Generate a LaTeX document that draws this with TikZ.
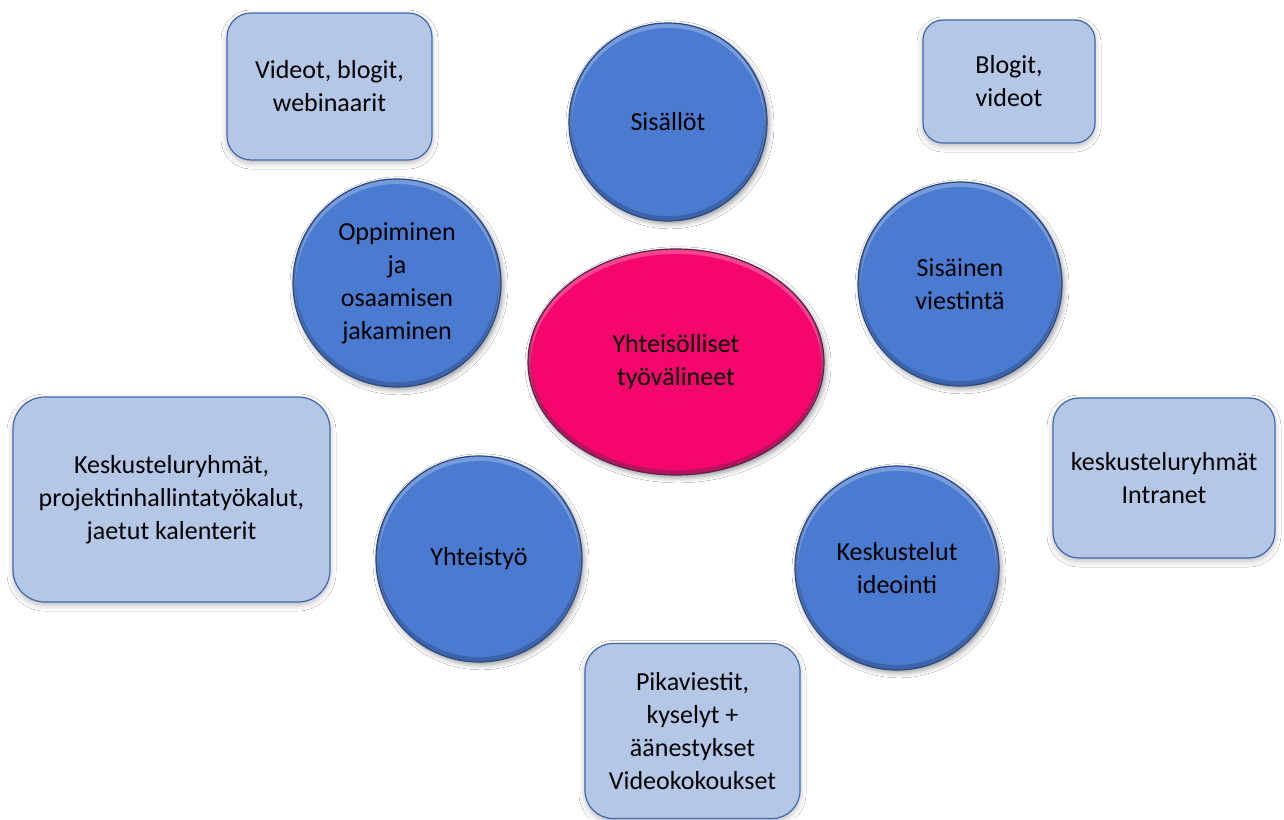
\documentclass[tikz,border=0pt]{standalone}
\usepackage{fontspec}
\setmainfont{Carlito}
\usetikzlibrary{shapes.geometric,shadows.blur}

\definecolor{bubblefill}{RGB}{74,123,208}
\definecolor{bubbleedge}{RGB}{44,72,128}
\definecolor{hubfill}{RGB}{245,6,108}
\definecolor{hubedge}{RGB}{88,36,72}
\definecolor{notefill}{RGB}{180,199,231}
\definecolor{noteedge}{RGB}{66,104,168}

\tikzset{
  labeltext/.style={font=\fontsize{13}{16.5}\selectfont, align=center, text=black},
  softshadow/.style={blur shadow={shadow xshift=1pt, shadow yshift=-1.4pt,
      shadow blur radius=2.5pt, shadow opacity=40}},
  % bevelled disc: light crescent on top, dark crescent at the bottom
  bubble/.style={circle, labeltext, inner sep=0pt, minimum size=2*#1,
    fill=bubblefill, draw=bubbleedge, line width=0.6pt, softshadow,
    path picture={
      \draw[white, opacity=0.25, line width=2.5pt]
        ([yshift=-1.2pt]path picture bounding box.center) circle[radius=#1];
      \draw[bubbleedge, opacity=0.45, line width=2.5pt]
        ([yshift=1.2pt]path picture bounding box.center) circle[radius=#1];
    }},
  hub/.style={ellipse, labeltext, inner sep=0pt,
    minimum width=148pt, minimum height=113pt,
    fill=hubfill, draw=hubedge, line width=0.6pt, softshadow,
    path picture={
      \draw[white, opacity=0.25, line width=2.5pt]
        ([yshift=-1.2pt]path picture bounding box.center) ellipse[x radius=74pt, y radius=56.5pt];
      \draw[hubedge, opacity=0.4, line width=2.5pt]
        ([yshift=1.2pt]path picture bounding box.center) ellipse[x radius=74pt, y radius=56.5pt];
    }},
  note/.style={rectangle, labeltext, inner sep=0pt, fill=notefill,
    draw=noteedge, line width=0.6pt,
    blur shadow={shadow xshift=0pt, shadow yshift=-1.5pt,
      shadow blur radius=3pt, shadow opacity=28}},
}

\begin{document}
\begin{tikzpicture}[x=0.5pt, y=-0.5pt]
  \fill[white] (0,0) rectangle (1284,819);
  \useasboundingbox (0,0) rectangle (1284,819);

  % central hub
  \node[hub] (hub) at (676,362) {Yhteisölliset\\työvälineet};

  % surrounding themes
  \node[bubble=49.5pt] (sisallot)  at (668,122) {Sisällöt};
  \node[bubble=52pt]   (oppiminen) at (397,283) {Oppiminen\\ja\\osaamisen\\jakaminen};
  \node[bubble=51pt]   (viestinta) at (960,284) {Sisäinen\\viestintä};
  \node[bubble=51.5pt] (yhteistyo) at (479,559) {Yhteistyö};
  \node[bubble=51pt]   (keskustelut) at (897,568) {Keskustelut\\ideointi};

  % tool notes
  \node[note, minimum width=102.5pt, minimum height=73.5pt, rounded corners=12pt]
    (videot) at (329.5,86.5) {Videot, blogit,\\webinaarit};
  \node[note, minimum width=86pt, minimum height=61.5pt, rounded corners=10pt]
    (blogit) at (1009,81.5) {Blogit,\\videot};
  \node[note, minimum width=158.5pt, minimum height=102.5pt, rounded corners=16pt]
    (ryhmat) at (171.5,499.5) {Keskusteluryhmät,\\projektinhallintatyökalut,\\jaetut kalenterit};
  \node[note, minimum width=111pt, minimum height=80pt, rounded corners=13pt]
    (intranet) at (1164,478) {keskusteluryhmät\\Intranet};
  \node[note, minimum width=107.5pt, minimum height=87.5pt, rounded corners=14pt]
    (pika) at (692.5,731) {Pikaviestit,\\kyselyt +\\äänestykset\\Videokokoukset};
\end{tikzpicture}
\end{document}
